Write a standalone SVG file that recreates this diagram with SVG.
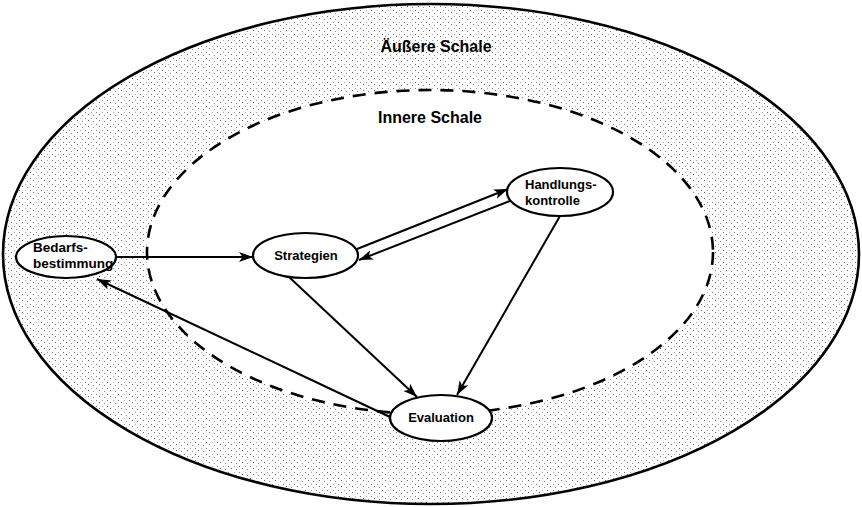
<svg xmlns="http://www.w3.org/2000/svg" width="862" height="507" viewBox="0 0 862 507">
  <style>
    .lbl { font-family: "Liberation Sans", Arial, sans-serif; font-weight: bold; fill: #000; }
    .node { fill: #fff; stroke: #000; stroke-width: 2.2; }
    .edge { stroke: #000; stroke-width: 2; fill: none; marker-end: url(#arr); }
  </style>
  <defs>
    <pattern id="stip" width="11" height="6" patternUnits="userSpaceOnUse">
      <rect x="0" y="0" width="1" height="1" fill="#666"/>
      <rect x="5" y="1" width="1" height="1" fill="#888"/>
      <rect x="8" y="4" width="1" height="1" fill="#777"/>
      <rect x="3" y="4" width="1" height="1" fill="#aaa"/>
    </pattern>
    <marker id="arr" markerUnits="userSpaceOnUse" markerWidth="15" markerHeight="11" refX="14" refY="5.5" orient="auto">
      <path d="M0,0.5 L14,5.5 L0,10.5 L3.5,5.5 z" fill="#000"/>
    </marker>
  </defs>

  <g id="outer-shell">
    <ellipse cx="431" cy="254" rx="428" ry="250" fill="#fff"/>
    <ellipse cx="431" cy="254" rx="428" ry="250" fill="url(#stip)" stroke="#000" stroke-width="2.6"/>
    <text class="lbl" x="436" y="52" font-size="16" text-anchor="middle">Äußere Schale</text>
  </g>

  <g id="inner-shell">
    <ellipse cx="430" cy="252" rx="283" ry="162" fill="#fff" stroke="#000" stroke-width="2.6" stroke-dasharray="13 9"/>
    <text class="lbl" x="430" y="123" font-size="16" text-anchor="middle">Innere Schale</text>
  </g>

  <g id="connectors">
    <line class="edge" x1="117" y1="257" x2="253" y2="257"/>
    <line class="edge" x1="357" y1="249" x2="508" y2="189"/>
    <line class="edge" x1="510" y1="201" x2="359" y2="260"/>
    <line class="edge" x1="289" y1="277" x2="417" y2="397"/>
    <line class="edge" x1="560" y1="216" x2="457" y2="395"/>
    <line class="edge" x1="390" y1="417" x2="97" y2="279"/>
  </g>

  <g id="bedarfsbestimmung">
    <ellipse class="node" cx="66" cy="257" rx="50" ry="21"/>
    <text class="lbl" x="33" y="252" font-size="13.5">Bedarfs-</text>
    <text class="lbl" x="33" y="268" font-size="13.5">bestimmung</text>
  </g>

  <g id="strategien">
    <ellipse class="node" cx="305.5" cy="255.5" rx="52.5" ry="22.5"/>
    <text class="lbl" x="306" y="260" font-size="13" text-anchor="middle">Strategien</text>
  </g>

  <g id="handlungskontrolle">
    <ellipse class="node" cx="560" cy="192" rx="53" ry="24"/>
    <text class="lbl" x="525" y="189" font-size="13">Handlungs-</text>
    <text class="lbl" x="525" y="205" font-size="13">kontrolle</text>
  </g>

  <g id="evaluation">
    <ellipse class="node" cx="441" cy="418" rx="51" ry="23"/>
    <text class="lbl" x="441" y="422" font-size="13" text-anchor="middle">Evaluation</text>
  </g>
</svg>
